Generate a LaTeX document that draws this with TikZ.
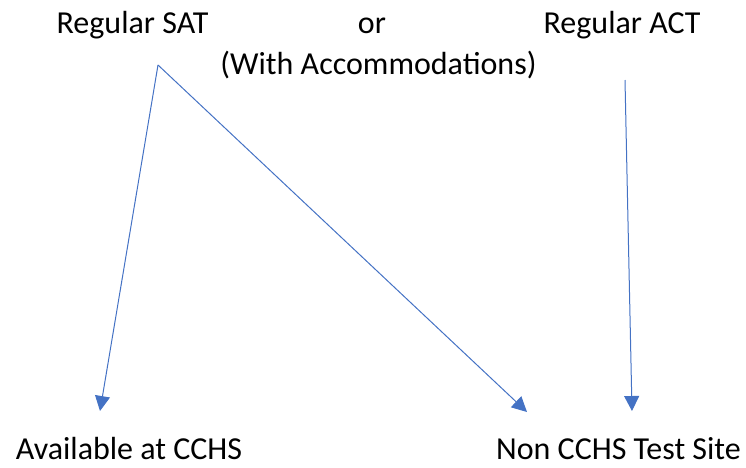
\documentclass[tikz,border=0pt]{standalone}
\usepackage{fontspec}
\setmainfont{Carlito}
\usetikzlibrary{arrows.meta}
\definecolor{arrowblue}{HTML}{4472C4}
\begin{document}
\begin{tikzpicture}[x=1pt,y=-1pt,
  lbl/.style={anchor=base,inner sep=0pt,font=\fontsize{32}{38}\selectfont},
  conn/.style={draw=arrowblue,line width=1pt,-{Triangle[length=15pt,width=15pt,fill=arrowblue]}}]
\useasboundingbox (0,0) rectangle (746,467);
\node[lbl] (sat) at (132.5,33) {Regular SAT};
\node[lbl] (or) at (372,33) {or};
\node[lbl] (act) at (622,33) {Regular ACT};
\node[lbl] (acc) at (378.5,74) {(With Accommodations)};
\node[lbl] (avail) at (129,459) {Available at CCHS};
\node[lbl] (non) at (618.5,459) {Non CCHS Test Site};
\coordinate (s) at (158,65);
\coordinate (a) at (625,80);
\coordinate (t1) at (100,411);
\coordinate (t2) at (527,412);
\coordinate (t3) at (632,411);
\draw[conn] (s) -- (t1);
\draw[conn] (s) -- (t2);
\draw[conn] (a) -- (t3);
\end{tikzpicture}
\end{document}
